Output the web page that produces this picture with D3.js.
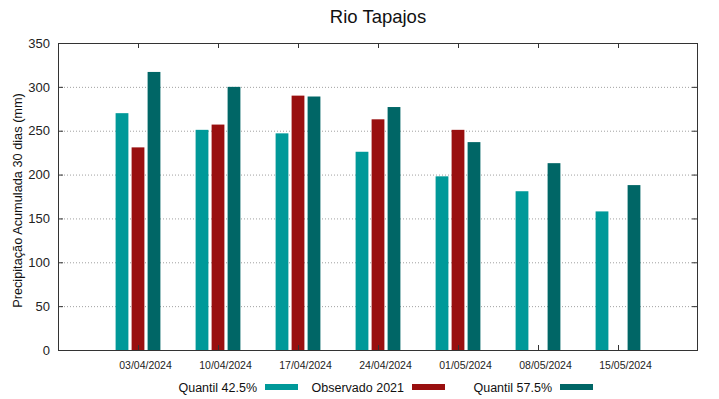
<!DOCTYPE html>
<html>
<head>
<meta charset="utf-8">
<script src="https://cdn.jsdelivr.net/npm/d3@7"></script>
<style>
  body { margin: 0; background: #fff; }
  svg { display: block; font-family: "Liberation Sans", Arial, sans-serif; }
</style>
</head>
<body>
<svg></svg>
<script>
const dates = ["03/04/2024", "10/04/2024", "17/04/2024", "24/04/2024", "01/05/2024", "08/05/2024", "15/05/2024"];
const q425 = [270, 251, 247, 226, 198, 181, 158];
const obs2021 = [231, 257, 290, 263, 251, null, null];
const q575 = [317, 300, 289, 277, 237, 213, 188];
const yTicks = [0, 50, 100, 150, 200, 250, 300, 350];
const seriesNames = ["Quantil 42.5%", "Observado 2021", "Quantil 57.5%"];
const colors = ["#009999", "#990f0f", "#006666"];

const W = 719, H = 399;
const plot = { left: 58, right: 698, top: 43, bottom: 350 };

const svg = d3.select("svg").attr("width", W).attr("height", H);

const x = d3.scalePoint().domain(dates).range([plot.left, plot.right]).padding(1);
const y = d3.scaleLinear().domain([0, 350]).range([plot.bottom, plot.top]);
const step = x.step();
const barW = step * 0.16;
const offsets = [-0.2, 0, 0.2];

// grid
svg.append("g").selectAll("line").data(yTicks.filter(d => d > 0 && d < 350)).enter().append("line")
  .attr("x1", plot.left).attr("x2", plot.right)
  .attr("y1", d => y(d) + 0.5).attr("y2", d => y(d) + 0.5)
  .attr("stroke", "#a0a0a0").attr("stroke-width", 1).attr("stroke-dasharray", "1,2");

// bars
const series = [q425, obs2021, q575];
series.forEach((vals, s) => {
  svg.append("g").selectAll("rect").data(vals.map((v, i) => ({ v, d: dates[i] })).filter(e => e.v != null))
    .enter().append("rect")
    .attr("x", e => x(e.d) + offsets[s] * step - barW / 2)
    .attr("y", e => y(e.v))
    .attr("width", barW)
    .attr("height", e => y(0) - y(e.v))
    .attr("fill", colors[s]);
});

// frame
svg.append("rect")
  .attr("x", plot.left + 0.5).attr("y", plot.top + 0.5)
  .attr("width", plot.right - plot.left - 1).attr("height", plot.bottom - plot.top)
  .attr("fill", "none").attr("stroke", "#333").attr("stroke-width", 1);

// ticks (mirrored, inward)
const tk = 5;
const xAxisBottom = d3.axisBottom(x).tickSize(0).tickPadding(12);
svg.append("g").attr("transform", `translate(0, ${plot.bottom})`).call(xAxisBottom)
  .call(g => g.select(".domain").remove())
  .call(g => g.selectAll("text").attr("dx", 7).attr("font-size", "10.5px").attr("fill", "#222").attr("font-family", "Liberation Sans, Arial, sans-serif"));
svg.append("g").selectAll("line").data(dates).enter().append("line")
  .attr("x1", d => x(d) + 0.5).attr("x2", d => x(d) + 0.5)
  .attr("y1", plot.top).attr("y2", plot.top + tk).attr("stroke", "#333");
svg.append("g").selectAll("line").data(dates).enter().append("line")
  .attr("x1", d => x(d) + 0.5).attr("x2", d => x(d) + 0.5)
  .attr("y1", plot.bottom).attr("y2", plot.bottom - tk).attr("stroke", "#333");

const yAxis = d3.axisLeft(y).tickValues(yTicks).tickSize(0).tickPadding(8);
svg.append("g").attr("transform", `translate(${plot.left}, 0)`).call(yAxis)
  .call(g => g.select(".domain").remove())
  .call(g => g.selectAll("text").attr("font-size", "13px").attr("fill", "#222").attr("font-family", "Liberation Sans, Arial, sans-serif"));
svg.append("g").selectAll("line").data(yTicks.filter(d => d > 0 && d < 350)).enter().append("line")
  .attr("x1", plot.right - 1).attr("x2", plot.right - 1 - tk)
  .attr("y1", d => y(d) + 0.5).attr("y2", d => y(d) + 0.5).attr("stroke", "#333");
svg.append("g").selectAll("line").data(yTicks.filter(d => d > 0 && d < 350)).enter().append("line")
  .attr("x1", plot.left).attr("x2", plot.left + tk)
  .attr("y1", d => y(d) + 0.5).attr("y2", d => y(d) + 0.5).attr("stroke", "#333");

// title
svg.append("text").attr("x", (plot.left + plot.right) / 2).attr("y", 23)
  .attr("text-anchor", "middle").attr("font-size", "18.5px").attr("fill", "#111").text("Rio Tapajos");

// y label
svg.append("text")
  .attr("transform", `translate(22, ${(plot.top + plot.bottom) / 2 + 4}) rotate(-90)`)
  .attr("text-anchor", "middle").attr("font-size", "12.75px").attr("fill", "#111")
  .text("Precipitação Acumulada 30 dias (mm)");

// legend
const legendX = [257, 404, 552];
const legend = svg.append("g");
seriesNames.forEach((name, i) => {
  legend.append("text").attr("x", legendX[i]).attr("y", 392)
    .attr("text-anchor", "end").attr("font-size", "12.5px").attr("fill", "#111").text(name);
  legend.append("rect").attr("x", legendX[i] + 8).attr("y", 384)
    .attr("width", 33).attr("height", 6).attr("fill", colors[i]);
});
</script>
</body>
</html>
